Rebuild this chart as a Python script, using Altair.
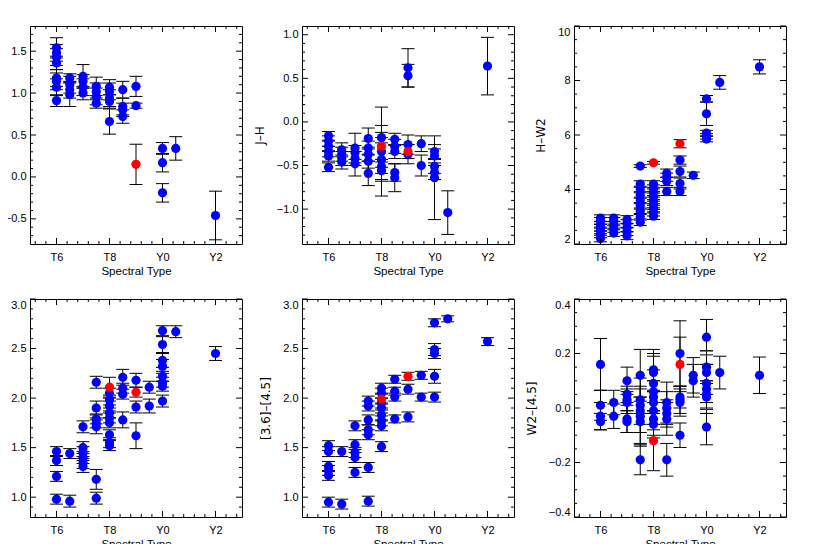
import altair as alt
import pandas as pd

# ---------------- shared x axis (spectral type) ----------------
spt_domain = [5, 13]
spt_ticks = [6, 8, 10, 12]
spt_labels = ["T6", "T8", "Y0", "Y2"]

BLUE = "#0000ff"
RED = "#ff0000"

# ---------------- panel 1 (left, top) ----------------
p1_spt = [6, 6, 6, 6, 6, 6, 6, 6, 6.5, 6.5, 6.5, 6.5, 7, 7, 7, 7, 7.5, 7.5, 7.5, 7.5,
          8, 8, 8, 8, 8, 8.5, 8.5, 8.5, 8.5, 9, 9, 10, 10, 10, 10.5, 12]
p1_val = [1.54, 1.48, 1.43, 1.36, 1.18, 1.14, 1.07, 0.91, 1.18, 1.10, 1.04, 0.98,
          1.20, 1.14, 1.07, 1.00, 1.08, 1.02, 0.96, 0.88, 1.07, 1.02, 0.94, 0.90, 0.66,
          1.04, 0.84, 0.80, 0.72, 1.08, 0.85, 0.34, 0.17, -0.19, 0.34, -0.46]
p1_err = [0.12, 0.10, 0.10, 0.08, 0.10, 0.10, 0.10, 0.07, 0.05, 0.10, 0.10, 0.14,
          0.14, 0.08, 0.10, 0.08, 0.11, 0.10, 0.10, 0.06, 0.09, 0.10, 0.10, 0.08, 0.15,
          0.10, 0.10, 0.08, 0.08, 0.12, 0.03, 0.07, 0.11, 0.11, 0.14, 0.29]
p1_red_spt = [9]
p1_red_val = [0.15]
p1_red_err = [0.24]

# ---------------- panel 2 : J-H ----------------
p2_spt = [6, 6, 6, 6, 6, 6, 6.5, 6.5, 6.5, 6.5, 7, 7, 7, 7, 7.5, 7.5, 7.5, 7.5, 7.5,
          8, 8, 8, 8, 8, 8.5, 8.5, 8.5, 8.5, 8.5, 9, 9, 9, 9, 9.5, 9.5,
          10, 10, 10, 10, 10, 10.5, 12]
p2_val = [-0.16, -0.22, -0.28, -0.34, -0.39, -0.52, -0.32, -0.37, -0.42, -0.46,
          -0.30, -0.35, -0.42, -0.48, -0.19, -0.30, -0.37, -0.45, -0.59,
          -0.18, -0.34, -0.43, -0.51, -0.56, -0.20, -0.28, -0.34, -0.58, -0.64,
          0.62, 0.53, -0.26, -0.37, -0.25, -0.50,
          -0.34, -0.39, -0.51, -0.58, -0.64, -1.04, 0.64]
p2_err = [0.05, 0.06, 0.06, 0.06, 0.06, 0.05, 0.08, 0.08, 0.08, 0.08,
          0.17, 0.08, 0.08, 0.14, 0.12, 0.08, 0.08, 0.08, 0.14,
          0.06, 0.51, 0.25, 0.08, 0.10, 0.07, 0.08, 0.08, 0.10, 0.16,
          0.22, 0.13, 0.11, 0.11, 0.09, 0.12,
          0.08, 0.08, 0.08, 0.08, 0.48, 0.25, 0.33]
p2_red_spt = [8, 9]
p2_red_val = [-0.28, -0.34]
p2_red_err = [0.24, 0.08]

# ---------------- panel 3 : H-W2 ----------------
p3_spt = [6, 6, 6, 6, 6, 6, 6, 6.5, 6.5, 6.5, 6.5, 6.5, 7, 7, 7, 7, 7,
          7.5, 7.5, 7.5, 7.5, 7.5, 7.5, 7.5, 7.5, 7.5,
          8, 8, 8, 8, 8, 8, 8, 8, 8, 8.5, 8.5, 8.5, 8.5, 9, 9, 9, 9, 9.5,
          10, 10, 10, 10, 10, 10.5, 12]
p3_val = [2.20, 2.35, 2.50, 2.60, 2.70, 2.85, 2.95, 2.40, 2.55, 2.70, 2.85, 2.95,
          2.30, 2.45, 2.60, 2.75, 2.90,
          4.86, 4.20, 4.00, 3.80, 3.60, 3.40, 3.20, 3.00, 2.80,
          4.20, 4.05, 3.90, 3.75, 3.60, 3.45, 3.30, 3.15, 3.02,
          4.60, 4.45, 4.30, 3.93, 5.08, 4.66, 4.22, 3.93, 4.52,
          7.33, 6.78, 6.07, 5.95, 5.85, 7.93, 8.50]
p3_err = [0.12, 0.12, 0.12, 0.12, 0.12, 0.12, 0.12, 0.12, 0.12, 0.12, 0.12, 0.12,
          0.14, 0.14, 0.14, 0.14, 0.14,
          0.05, 0.12, 0.12, 0.12, 0.12, 0.12, 0.12, 0.12, 0.12,
          0.12, 0.12, 0.12, 0.12, 0.12, 0.12, 0.12, 0.12, 0.12,
          0.15, 0.15, 0.15, 0.15, 0.15, 0.20, 0.20, 0.15, 0.12,
          0.12, 0.43, 0.10, 0.10, 0.10, 0.25, 0.26]
p3_red_spt = [8, 9]
p3_red_val = [4.98, 5.68]
p3_red_err = [0.05, 0.15]

# ---------------- panel 4 : [3.6]-W2 ----------------
p4_spt = [6, 6, 6, 6, 6.5, 6.5, 7, 7, 7, 7, 7, 7,
          7.5, 7.5, 7.5, 7.5, 7.5, 7.5, 7.5,
          8, 8, 8, 8, 8, 8, 8, 8, 8, 8.5, 8.5, 8.5, 8.5, 9, 9, 9, 9.5, 9.5,
          10, 10, 10, 10, 10, 10, 10, 10, 10.5, 12]
p4_val = [1.46, 1.37, 1.21, 0.98, 1.44, 0.96, 1.71, 1.50, 1.45, 1.40, 1.35, 1.31,
          2.16, 1.90, 1.79, 1.75, 1.71, 1.18, 0.99,
          2.05, 1.98, 1.92, 1.85, 1.80, 1.75, 1.63, 1.55, 1.52,
          2.21, 2.10, 2.04, 1.78, 2.18, 1.91, 1.62, 2.11, 1.92,
          2.68, 2.54, 2.38, 2.32, 2.22, 2.16, 2.12, 1.97, 2.67, 2.45]
p4_err = [0.05, 0.05, 0.05, 0.05, 0.05, 0.06, 0.06, 0.06, 0.06, 0.06, 0.06, 0.06,
          0.06, 0.07, 0.05, 0.05, 0.07, 0.10, 0.06,
          0.05, 0.05, 0.05, 0.05, 0.05, 0.05, 0.05, 0.05, 0.05,
          0.08, 0.05, 0.05, 0.08, 0.07, 0.06, 0.13, 0.06, 0.07,
          0.05, 0.08, 0.07, 0.07, 0.05, 0.05, 0.05, 0.06, 0.06, 0.07]
p4_red_spt = [8, 9]
p4_red_val = [2.11, 2.06]
p4_red_err = [0.10, 0.05]

# ---------------- panel 5 : [3.6]-[4.5] ----------------
p5_spt = [6, 6, 6, 6, 6, 6, 6.5, 6.5, 7, 7, 7, 7, 7,
          7.5, 7.5, 7.5, 7.5, 7.5, 7.5, 7.5,
          8, 8, 8, 8, 8, 8, 8, 8, 8.5, 8.5, 8.5, 8.5, 9, 9, 9.5, 9.5,
          10, 10, 10, 10, 10, 10.5, 12]
p5_val = [1.52, 1.46, 1.31, 1.27, 1.22, 0.95, 1.46, 0.93, 1.72, 1.53, 1.45, 1.40, 1.25,
          1.97, 1.92, 1.78, 1.68, 1.63, 1.30, 0.96,
          2.10, 2.05, 1.95, 1.90, 1.83, 1.77, 1.72, 1.51, 2.19, 2.07, 2.01, 1.79,
          2.09, 1.81, 2.23, 2.01,
          2.76, 2.49, 2.45, 2.22, 2.01, 2.80, 2.57]
p5_err = [0.05, 0.05, 0.05, 0.05, 0.05, 0.05, 0.05, 0.05, 0.05, 0.05, 0.05, 0.05, 0.05,
          0.05, 0.05, 0.05, 0.05, 0.05, 0.05, 0.05,
          0.05, 0.05, 0.05, 0.05, 0.05, 0.05, 0.05, 0.05, 0.04, 0.04, 0.04, 0.04,
          0.05, 0.05, 0.04, 0.04,
          0.04, 0.06, 0.05, 0.07, 0.05, 0.03, 0.04]
p5_red_spt = [8, 9]
p5_red_val = [1.99, 2.22]
p5_red_err = [0.05, 0.04]

# ---------------- panel 6 : W2-[4.5] ----------------
p6_spt = [6, 6, 6, 6, 6.5, 6.5, 7, 7, 7, 7, 7, 7,
          7.5, 7.5, 7.5, 7.5, 7.5, 7.5, 7.5,
          8, 8, 8, 8, 8, 8, 8, 8, 8, 8.5, 8.5, 8.5, 8.5, 8.5,
          9, 9, 9, 9, 9, 9.5, 9.5,
          10, 10, 10, 10, 10, 10, 10, 10, 10.5, 12]
p6_val = [0.16, 0.01, -0.03, -0.05, 0.02, -0.03, 0.10, 0.05, 0.03, 0.02, -0.04, -0.05,
          0.12, 0.03, 0.01, -0.01, -0.03, -0.05, -0.19,
          0.14, 0.13, 0.09, 0.06, 0.04, 0.02, -0.01, -0.04, -0.06,
          0.02, 0.00, -0.02, -0.04, -0.19,
          0.20, 0.04, 0.03, 0.02, -0.10, 0.12, 0.10,
          0.26, 0.15, 0.13, 0.09, 0.07, 0.05, 0.04, -0.07, 0.13, 0.12]
p6_err = [0.095, 0.055, 0.05, 0.03, 0.045, 0.045, 0.05, 0.03, 0.04, 0.04, 0.05, 0.04,
          0.095, 0.05, 0.10, 0.05, 0.10, 0.09, 0.055,
          0.075, 0.07, 0.10, 0.08, 0.06, 0.08, 0.07, 0.06, 0.05,
          0.075, 0.06, 0.05, 0.06, 0.06,
          0.12, 0.04, 0.05, 0.05, 0.045, 0.065, 0.06,
          0.065, 0.06, 0.08, 0.07, 0.09, 0.05, 0.06, 0.065, 0.06, 0.067]
p6_red_spt = [8, 9]
p6_red_val = [-0.12, 0.16]
p6_red_err = [0.11, 0.10]

# ---------------- helpers ----------------
label_expr = " : ".join(
    f"datum.value == {v} ? '{t}'" for v, t in zip(spt_ticks, spt_labels)
) + " : ''"


def minor_values(dom, majors, step):
    out = []
    base = majors[0]
    for k in range(-200, 201):
        v = round(base + k * step, 6)
        if dom[0] < v < dom[1] and all(abs(v - m) > 1e-9 for m in majors):
            out.append(v)
    return out


def panel(bs, bv, be, rs, rv, re, ydom, ymajor, ystep, yfmt, ytitle):
    xs = alt.Scale(domain=spt_domain, nice=False, zero=False)
    ys = alt.Scale(domain=ydom, nice=False, zero=False)
    xax = alt.Axis(values=spt_ticks, labelExpr=label_expr, title="Spectral Type")
    yax = alt.Axis(values=ymajor, format=yfmt, title=ytitle, labelFlush=True)

    def X(f):
        return alt.X(f, type="quantitative", scale=xs, axis=xax)

    def Y(f):
        return alt.Y(f, type="quantitative", scale=ys, axis=yax)

    df = pd.DataFrame({
        "spt": bs + rs,
        "val": bv + rv,
        "err": be + re,
        "grp": ["b"] * len(bs) + ["r"] * len(rs),
    })
    df["lo"] = df["val"] - df["err"]
    df["hi"] = df["val"] + df["err"]
    base = alt.Chart(df)
    bars = base.mark_rule(color="black", strokeWidth=1).encode(
        x=X("spt"), y=Y("lo"), y2="hi:Q")
    cap_lo = base.mark_tick(orient="horizontal", size=13, thickness=1,
                            color="black", opacity=1).encode(x=X("spt"), y=Y("lo"))
    cap_hi = base.mark_tick(orient="horizontal", size=13, thickness=1,
                            color="black", opacity=1).encode(x=X("spt"), y=Y("hi"))
    blue = base.transform_filter("datum.grp == 'b'").mark_circle(
        size=85, opacity=1, color=BLUE).encode(x=X("spt"), y=Y("val"))
    red = base.transform_filter("datum.grp == 'r'").mark_circle(
        size=85, opacity=1, color=RED).encode(x=X("spt"), y=Y("val"))
    layers = [bars, cap_lo, cap_hi, blue, red]

    # inward ticks on all four sides of the frame
    xminor = minor_values(spt_domain, spt_ticks, 0.4)
    yminor = minor_values(ydom, ymajor, ystep)
    for vals, L in ((spt_ticks, 6), (xminor, 3)):
        src = alt.Chart(pd.DataFrame({"v": vals}))
        for yv, off in ((ydom[0], -L / 2), (ydom[1], L / 2)):
            layers.append(
                src.mark_tick(orient="vertical", size=L, thickness=1,
                              color="black", yOffset=off, opacity=1).encode(
                    x=X("v"),
                    y=alt.YDatum(yv, type="quantitative", scale=ys, axis=yax),
                )
            )
    for vals, L in ((ymajor, 6), (yminor, 3)):
        src = alt.Chart(pd.DataFrame({"v": vals}))
        for xv, off in ((spt_domain[0], L / 2), (spt_domain[1], -L / 2)):
            layers.append(
                src.mark_tick(orient="horizontal", size=L, thickness=1,
                              color="black", xOffset=off, opacity=1).encode(
                    x=alt.XDatum(xv, type="quantitative", scale=xs, axis=xax),
                    y=Y("v"),
                )
            )
    return alt.layer(*layers).properties(width=212, height=218)


c1 = panel(p1_spt, p1_val, p1_err, p1_red_spt, p1_red_val, p1_red_err,
           [-0.8, 1.8], [-0.5, 0.0, 0.5, 1.0, 1.5], 0.1, ".1f", "Y–J")
c2 = panel(p2_spt, p2_val, p2_err, p2_red_spt, p2_red_val, p2_red_err,
           [-1.4, 1.1], [-1.0, -0.5, 0.0, 0.5, 1.0], 0.1, ".1f", "J–H")
c3 = panel(p3_spt, p3_val, p3_err, p3_red_spt, p3_red_val, p3_red_err,
           [2, 10], [2, 4, 6, 8, 10], 0.5, "d", "H–W2")
c4 = panel(p4_spt, p4_val, p4_err, p4_red_spt, p4_red_val, p4_red_err,
           [0.8, 3.0], [1.0, 1.5, 2.0, 2.5, 3.0], 0.1, ".1f", "[3.6]–W2")
c5 = panel(p5_spt, p5_val, p5_err, p5_red_spt, p5_red_val, p5_red_err,
           [0.8, 3.0], [1.0, 1.5, 2.0, 2.5, 3.0], 0.1, ".1f", "[3.6]–[4.5]")
c6 = panel(p6_spt, p6_val, p6_err, p6_red_spt, p6_red_val, p6_red_err,
           [-0.4, 0.4], [-0.4, -0.2, 0.0, 0.2, 0.4], 0.05, ".1f", "W2–[4.5]")

chart = (
    alt.concat(c1, c2, c3, c4, c5, c6, columns=3,
               spacing=alt.RowColnumber(row=55, column=60), bounds="flush")
    .properties(padding={"left": -28, "top": 17, "right": 5, "bottom": 0},
                background="white")
    .configure_view(stroke="black", strokeWidth=1)
    .configure_axis(grid=False, domain=False, ticks=False,
                    labelFont="Liberation Sans", labelFontSize=11, labelColor="black",
                    titleFont="Liberation Sans", titleColor="black",
                    titleFontWeight="normal")
    .configure_axisX(labelPadding=7, titleFontSize=11.5, titlePadding=3)
    .configure_axisY(labelPadding=4, titleFont="DejaVu Sans", titleFontSize=12,
                     titlePadding=10)
)

chart.save("out.html", embed_options={"renderer": "svg", "actions": False})
